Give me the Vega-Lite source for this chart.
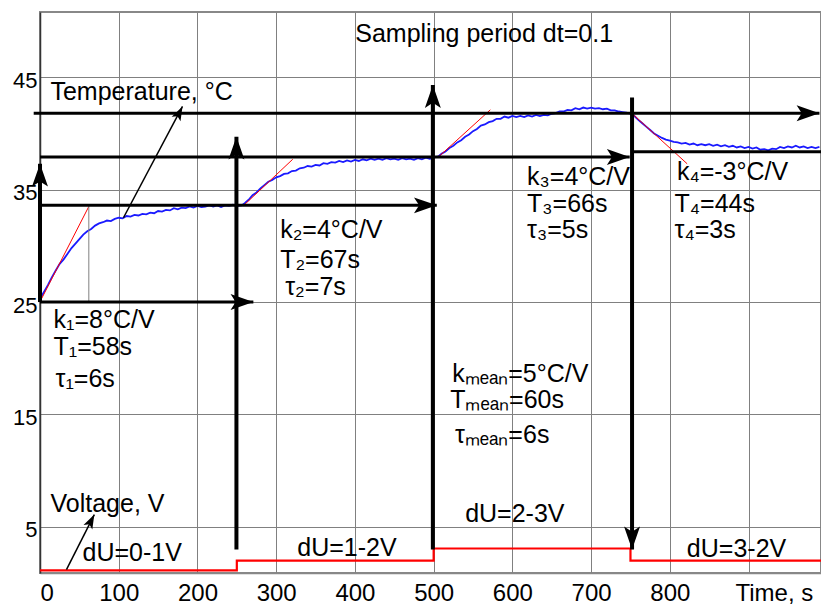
{
  "$schema": "https://vega.github.io/schema/vega-lite/v6.json",
  "width": 781,
  "height": 561,
  "autosize": "none",
  "padding": {"left": 40, "top": 12, "right": 0, "bottom": 31},
  "background": "white",
  "config": {
    "view": {"stroke": "#888888", "strokeWidth": 2},
    "font": "Liberation Sans"
  },
  "datasets": {
    "temp": [
      {"t":0,"T":25.3},{"t":5,"T":25.9},{"t":10,"T":26.5},{"t":15,"T":27.2},{"t":20,"T":27.8},{"t":25,"T":28.4},{"t":30,"T":28.8},{"t":35,"T":29.3},{"t":40,"T":29.8},{"t":45,"T":30.2},{"t":50,"T":30.6},{"t":55,"T":31.0},{"t":60,"T":31.3},{"t":65,"T":31.5},{"t":70,"T":31.8},{"t":75,"T":32.0},{"t":80,"T":32.1},{"t":85,"T":32.25},{"t":90,"T":32.2},{"t":95,"T":32.4},{"t":100,"T":32.5},{"t":105,"T":32.45},{"t":110,"T":32.65},{"t":115,"T":32.6},{"t":120,"T":32.75},{"t":125,"T":32.7},{"t":130,"T":32.85},{"t":135,"T":32.8},{"t":140,"T":32.95},{"t":145,"T":32.9},{"t":150,"T":33.1},{"t":155,"T":33.05},{"t":160,"T":33.2},{"t":165,"T":33.15},{"t":170,"T":33.35},{"t":175,"T":33.25},{"t":180,"T":33.4},{"t":185,"T":33.35},{"t":190,"T":33.5},{"t":195,"T":33.4},{"t":200,"T":33.55},{"t":205,"T":33.45},{"t":210,"T":33.5},{"t":215,"T":33.6},{"t":220,"T":33.5},{"t":225,"T":33.6},{"t":230,"T":33.45},{"t":235,"T":33.6},{"t":240,"T":33.55},{"t":245,"T":33.65},{"t":250,"T":33.55},
      {"t":256,"T":33.6},{"t":260,"T":33.8},{"t":265,"T":34.1},{"t":270,"T":34.5},{"t":275,"T":34.75},{"t":280,"T":35.1},{"t":285,"T":35.4},{"t":290,"T":35.7},{"t":295,"T":35.85},{"t":300,"T":36.1},{"t":305,"T":36.2},{"t":310,"T":36.4},{"t":315,"T":36.45},{"t":320,"T":36.65},{"t":325,"T":36.7},{"t":330,"T":36.9},{"t":335,"T":36.95},{"t":340,"T":37.1},{"t":345,"T":37.05},{"t":350,"T":37.2},{"t":355,"T":37.15},{"t":360,"T":37.35},{"t":365,"T":37.3},{"t":370,"T":37.45},{"t":375,"T":37.4},{"t":380,"T":37.55},{"t":385,"T":37.45},{"t":390,"T":37.6},{"t":395,"T":37.5},{"t":400,"T":37.65},{"t":405,"T":37.55},{"t":410,"T":37.7},{"t":415,"T":37.6},{"t":420,"T":37.75},{"t":425,"T":37.65},{"t":430,"T":37.75},{"t":435,"T":37.65},{"t":440,"T":37.8},{"t":445,"T":37.7},{"t":450,"T":37.75},{"t":455,"T":37.65},{"t":460,"T":37.8},{"t":465,"T":37.7},{"t":470,"T":37.75},{"t":475,"T":37.65},{"t":480,"T":37.8},{"t":485,"T":37.7},{"t":490,"T":37.85},{"t":495,"T":37.75},{"t":500,"T":37.85},
      {"t":506,"T":37.95},{"t":510,"T":38.2},{"t":515,"T":38.4},{"t":520,"T":38.7},{"t":525,"T":38.9},{"t":530,"T":39.2},{"t":535,"T":39.4},{"t":540,"T":39.7},{"t":545,"T":39.9},{"t":550,"T":40.2},{"t":555,"T":40.4},{"t":560,"T":40.7},{"t":565,"T":40.8},{"t":570,"T":41.0},{"t":575,"T":41.1},{"t":580,"T":41.3},{"t":585,"T":41.3},{"t":590,"T":41.5},{"t":595,"T":41.4},{"t":600,"T":41.55},{"t":605,"T":41.45},{"t":610,"T":41.55},{"t":615,"T":41.45},{"t":620,"T":41.6},{"t":625,"T":41.5},{"t":630,"T":41.65},{"t":635,"T":41.55},{"t":640,"T":41.65},{"t":645,"T":41.6},{"t":650,"T":41.75},{"t":655,"T":41.8},{"t":660,"T":41.95},{"t":665,"T":41.95},{"t":670,"T":42.1},{"t":675,"T":42.05},{"t":680,"T":42.25},{"t":685,"T":42.15},{"t":690,"T":42.3},{"t":695,"T":42.2},{"t":700,"T":42.3},{"t":705,"T":42.2},{"t":710,"T":42.25},{"t":715,"T":42.15},{"t":720,"T":42.2},{"t":725,"T":42.05},{"t":730,"T":42.05},{"t":735,"T":41.95},{"t":740,"T":41.9},{"t":745,"T":41.85},{"t":750,"T":41.75},
      {"t":755,"T":41.55},{"t":760,"T":41.2},{"t":765,"T":40.9},{"t":770,"T":40.6},{"t":775,"T":40.3},{"t":780,"T":40.0},{"t":785,"T":39.8},{"t":790,"T":39.6},{"t":795,"T":39.45},{"t":800,"T":39.35},{"t":805,"T":39.25},{"t":810,"T":39.2},{"t":815,"T":39.1},{"t":820,"T":39.15},{"t":825,"T":39.0},{"t":830,"T":39.1},{"t":835,"T":38.95},{"t":840,"T":39.05},{"t":845,"T":38.95},{"t":850,"T":39.05},{"t":855,"T":38.9},{"t":860,"T":39.0},{"t":865,"T":38.85},{"t":870,"T":38.95},{"t":875,"T":38.8},{"t":880,"T":38.9},{"t":885,"T":38.75},{"t":890,"T":38.85},{"t":895,"T":38.7},{"t":900,"T":38.8},{"t":905,"T":38.65},{"t":910,"T":38.75},{"t":915,"T":38.55},{"t":920,"T":38.6},{"t":925,"T":38.5},{"t":930,"T":38.65},{"t":935,"T":38.6},{"t":940,"T":38.8},{"t":945,"T":38.7},{"t":950,"T":38.85},{"t":955,"T":38.75},{"t":960,"T":38.9},{"t":965,"T":38.75},{"t":970,"T":38.85},{"t":975,"T":38.7},{"t":980,"T":38.8},{"t":985,"T":38.7},{"t":990,"T":38.8}
    ],
    "volt": [
      {"t":0,"T":1.13},{"t":250,"T":2.0},{"t":500,"T":3.08},{"t":750,"T":2.0},{"t":992,"T":2.0}
    ],
    "tangents": [
      {"t":2,"T":25.3,"t2":62,"T2":33.5},
      {"t":258,"T":33.55,"t2":321,"T2":37.7},
      {"t":506,"T":37.9,"t2":572,"T2":42.1},
      {"t":751.5,"T":41.8,"t2":822,"T2":37.3}
    ],
    "shafts": [
      {"kind":"h","t":-8,"T":41.8,"t2":990,"T2":41.8},
      {"kind":"h","t":0,"T":37.9,"t2":749,"T2":37.9},
      {"kind":"h","t":752,"T":38.37,"t2":992,"T2":38.37},
      {"kind":"h","t":0,"T":33.6,"t2":504,"T2":33.6},
      {"kind":"h","t":0,"T":25,"t2":271,"T2":25},
      {"kind":"v","t":0,"T":25,"t2":0,"T2":37.3},
      {"kind":"v","t":249.5,"T":3.0,"t2":249.5,"T2":39.7},
      {"kind":"v","t":499,"T":3.0,"t2":499,"T2":44.3},
      {"kind":"v","t":752,"T":43.2,"t2":752,"T2":3.0},
      {"kind":"s","t":106,"T":32.5,"t2":181,"T2":42.4},
      {"kind":"s","t":33.6,"T":1.2,"t2":69,"T2":6.1},
      {"kind":"g","t":62,"T":25,"t2":62,"T2":33.6}
    ],
    "heads": [
      {"dir":"up","t":0,"T":37.3},
      {"dir":"up","t":249.5,"T":39.7},
      {"dir":"up","t":499,"T":44.3},
      {"dir":"right","t":990,"T":41.8},
      {"dir":"right","t":749,"T":37.9},
      {"dir":"right","t":504,"T":33.6},
      {"dir":"right","t":271,"T":25},
      {"dir":"down","t":752,"T":3.0},
      {"dir":"slant","t":181,"T":42.4},
      {"dir":"slant","t":69,"T":6.1}
    ],
    "labels": [
      {"t":400.4,"T":48.13,"text":"Sampling period dt=0.1"},
      {"t":13.3,"T":43.0,"text":"Temperature, °C"},
      {"t":17.1,"T":22.65,"text":"k₁=8°C/V"},
      {"t":17.1,"T":20.3,"text":"T₁=58s"},
      {"t":19.7,"T":17.4,"text":"τ₁=6s"},
      {"t":305,"T":30.7,"text":"k₂=4°C/V"},
      {"t":305,"T":28.0,"text":"T₂=67s"},
      {"t":311.5,"T":25.6,"text":"τ₂=7s"},
      {"t":618.7,"T":35.4,"text":"k₃=4°C/V"},
      {"t":618.7,"T":33.0,"text":"T₃=66s"},
      {"t":618.7,"T":30.7,"text":"τ₃=5s"},
      {"t":809,"T":35.85,"text":"k₄=-3°C/V"},
      {"t":806,"T":33.0,"text":"T₄=44s"},
      {"t":806,"T":30.7,"text":"τ₄=3s"},
      {"t":523.5,"T":17.9,"text":"kₘₑₐₙ=5°C/V"},
      {"t":521,"T":15.6,"text":"Tₘₑₐₙ=60s"},
      {"t":527,"T":12.5,"text":"τₘₑₐₙ=6s"},
      {"t":13.3,"T":6.3,"text":"Voltage, V"},
      {"t":54,"T":1.95,"text":"dU=0-1V"},
      {"t":326.8,"T":2.37,"text":"dU=1-2V"},
      {"t":540,"T":5.4,"text":"dU=2-3V"},
      {"t":821.6,"T":2.3,"text":"dU=3-2V"}
    ]
  },
  "encoding": {
    "x": {
      "field": "t", "type": "quantitative",
      "scale": {"domain": [0, 992], "nice": false, "zero": false},
      "axis": {
        "values": [0,100,200,300,400,500,600,700,800,900],
        "labelExpr": "datum.value == 900 ? '' : datum.label",
        "grid": true, "gridColor": "#808080", "gridWidth": 1, "gridOpacity": 1,
        "ticks": false, "domainColor": "#888888", "domainWidth": 1.5,
        "labelFontSize": 24, "labelColor": "black", "labelPadding": 8, "labelFont": "Liberation Sans",
        "title": "Time, s", "titleX": 695, "titleY": 27, "titleAlign": "left", "titleBaseline": "alphabetic",
        "titleFontSize": 24, "titleFontWeight": "normal", "titleColor": "black", "titleFont": "Liberation Sans"
      }
    },
    "y": {
      "field": "T", "type": "quantitative",
      "scale": {"domain": [0.9, 50.8], "nice": false, "zero": false},
      "axis": {
        "values": [5,15,25,35,45],
        "grid": true, "gridColor": "#808080", "gridWidth": 1, "gridOpacity": 1,
        "ticks": false, "domainColor": "#333333", "domainWidth": 1.5,
        "labelFontSize": 22, "labelColor": "black", "labelPadding": 3, "labelOffset": 3, "labelFont": "Liberation Sans",
        "title": null
      }
    }
  },
  "layer": [
    {
      "data": {"name": "volt"},
      "mark": {"type": "line", "interpolate": "step-after", "color": "#ff0000", "strokeWidth": 2.2}
    },
    {
      "data": {"name": "temp"},
      "mark": {"type": "line", "color": "#1a1aff", "strokeWidth": 1.8}
    },
    {
      "data": {"name": "tangents"},
      "mark": {"type": "rule", "color": "#ff0000", "strokeWidth": 1},
      "encoding": {"x2": {"field": "t2"}, "y2": {"field": "T2"}}
    },
    {
      "data": {"name": "shafts"},
      "transform": [{"filter": "datum.kind == 'g'"}],
      "mark": {"type": "rule", "color": "#808080", "strokeWidth": 1},
      "encoding": {"x2": {"field": "t2"}, "y2": {"field": "T2"}}
    },
    {
      "data": {"name": "shafts"},
      "transform": [{"filter": "datum.kind == 'h'"}],
      "mark": {"type": "rule", "color": "black", "strokeWidth": 3},
      "encoding": {"x2": {"field": "t2"}, "y2": {"field": "T2"}}
    },
    {
      "data": {"name": "shafts"},
      "transform": [{"filter": "datum.kind == 'v'"}],
      "mark": {"type": "rule", "color": "black", "strokeWidth": 4},
      "encoding": {"x2": {"field": "t2"}, "y2": {"field": "T2"}}
    },
    {
      "data": {"name": "shafts"},
      "transform": [{"filter": "datum.kind == 's'"}],
      "mark": {"type": "rule", "color": "black", "strokeWidth": 1.5},
      "encoding": {"x2": {"field": "t2"}, "y2": {"field": "T2"}}
    },
    {
      "data": {"name": "heads"},
      "transform": [{"filter": "datum.dir == 'up'"}],
      "mark": {"type": "point", "shape": "M0,0 L-0.7,2 L0,1.55 L0.7,2 Z", "size": 520, "filled": true, "color": "black", "opacity": 1, "angle": 0}
    },
    {
      "data": {"name": "heads"},
      "transform": [{"filter": "datum.dir == 'right'"}],
      "mark": {"type": "point", "shape": "M0,0 L-0.7,2 L0,1.55 L0.7,2 Z", "size": 520, "filled": true, "color": "black", "opacity": 1, "angle": 90}
    },
    {
      "data": {"name": "heads"},
      "transform": [{"filter": "datum.dir == 'down'"}],
      "mark": {"type": "point", "shape": "M0,0 L-0.7,2 L0,1.55 L0.7,2 Z", "size": 520, "filled": true, "color": "black", "opacity": 1, "angle": 180}
    },
    {
      "data": {"name": "heads"},
      "transform": [{"filter": "datum.dir == 'slant'"}],
      "mark": {"type": "point", "shape": "M0,0 L-0.7,2 L0,1.55 L0.7,2 Z", "size": 200, "filled": true, "color": "black", "opacity": 1, "angle": 27}
    },
    {
      "data": {"name": "labels"},
      "mark": {"type": "text", "align": "left", "baseline": "alphabetic", "font": "Liberation Sans", "fontSize": 25, "color": "black"},
      "encoding": {"text": {"field": "text"}}
    }
  ]
}
